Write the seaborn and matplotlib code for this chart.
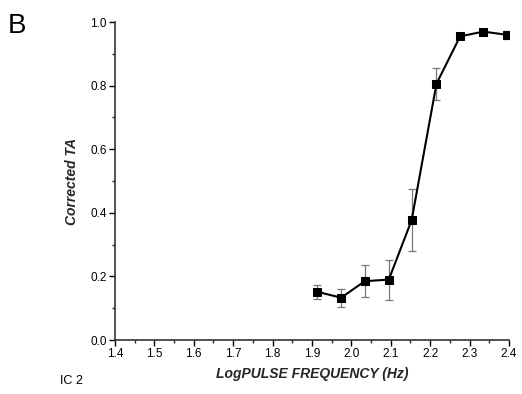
import matplotlib
matplotlib.use("Agg")
import matplotlib.pyplot as plt
import seaborn as sns
import pandas as pd
from matplotlib.ticker import MultipleLocator

log_freq = [1.913, 1.974, 2.034, 2.095, 2.153, 2.216, 2.276, 2.335, 2.394]
corrected_ta = [0.152, 0.133, 0.185, 0.190, 0.377, 0.806, 0.955, 0.970, 0.960]
err = [0.022, 0.029, 0.050, 0.063, 0.098, 0.050, 0.008, 0.008, 0.013]

df = pd.DataFrame({"x": log_freq, "y": corrected_ta, "err": err})

sns.set_theme(style="ticks")
plt.rcParams['font.family'] = ['Liberation Sans', 'DejaVu Sans']

fig = plt.figure(figsize=(5.22, 3.94), dpi=100)
ax = fig.add_axes([0.2203, 0.137, 0.7547, 0.807])

ax.errorbar(df["x"], df["y"], yerr=df["err"], fmt="none", ecolor="#777777",
            elinewidth=0.9, capsize=3, capthick=0.9, zorder=1)
sns.lineplot(data=df, x="x", y="y", ax=ax, color="black", linewidth=1.5,
             marker="s", markersize=6, markeredgecolor="black",
             markerfacecolor="black", zorder=2)

ax.set_xlim(1.4, 2.4)
ax.set_ylim(0.0, 1.0)
ax.xaxis.set_major_locator(MultipleLocator(0.1))
ax.xaxis.set_minor_locator(MultipleLocator(0.05))
ax.yaxis.set_major_locator(MultipleLocator(0.2))
ax.yaxis.set_minor_locator(MultipleLocator(0.1))
ax.set_xticklabels([f"{v:.1f}" for v in ax.get_xticks()])
ax.set_yticklabels([f"{v:.1f}" for v in ax.get_yticks()])
ax.tick_params(axis="both", which="major", direction="out", length=4, width=1,
               labelsize=8.5, colors="black", pad=2)
ax.tick_params(axis="both", which="minor", direction="out", length=2.5, width=1)
for s in ["top", "right"]:
    ax.spines[s].set_visible(False)
for s in ["left", "bottom"]:
    ax.spines[s].set_linewidth(1.2)
    ax.spines[s].set_color("#333333")
ax.spines["left"].set_bounds(0, 1)

ax.set_xlabel("LogPULSE FREQUENCY (Hz)", fontsize=10, fontweight="bold",
              fontstyle="italic", labelpad=5)
ax.set_ylabel("Corrected TA", fontsize=10, fontweight="bold",
              fontstyle="italic", labelpad=8)

fig.text(0.015, 0.915, "B", fontsize=20, color="black")
fig.text(0.115, 0.025, "IC 2", fontsize=9, color="black")

fig.savefig("out.png", dpi=100)
